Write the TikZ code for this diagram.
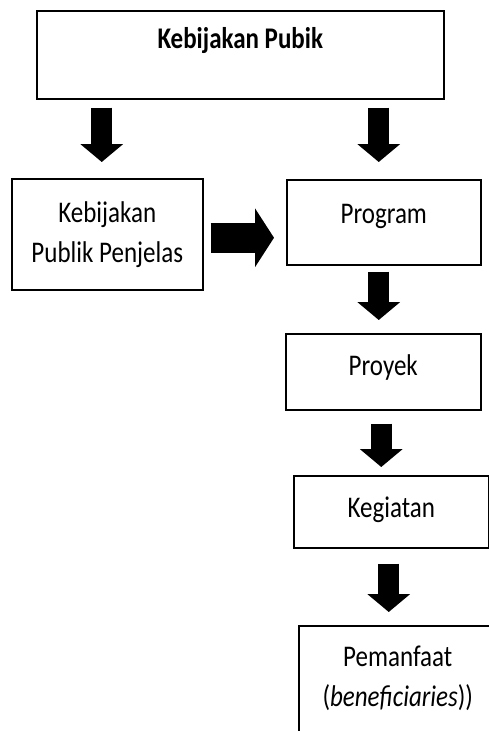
\documentclass[tikz,border=0pt]{standalone}
\usepackage{fontspec}
\setmainfont{Carlito}
\usetikzlibrary{arrows.meta,positioning}
\newcommand{\tall}[1]{\scalebox{1}[1.2]{#1}}

\begin{document}
\begin{tikzpicture}[
      x=1pt, y=-1pt,
      box/.style={
        draw=black, line width=1.5pt, fill=white, anchor=north west,
        font=\fontsize{25}{40}\selectfont, inner xsep=4pt, inner ysep=0pt
      },
      down/.style={-{Triangle[width=42pt,length=18pt]}, line width=21pt},
      side/.style={-{Triangle[width=58pt,length=19pt]}, line width=30pt}
    ]
    \useasboundingbox (0,0) rectangle (489,731);
    \clip (0,0) rectangle (489,731);

    \node[box, minimum width=407pt, text height=38pt, text depth=50pt] (kebijakan) at (36,10)
      {\tall{\textbf{Kebijakan Pubik}}};
    \node[box, minimum width=191pt, minimum height=111pt, align=center] (penjelas) at (11,178)
      {\tall{Kebijakan}\\\tall{Publik Penjelas}};
    \node[box, minimum width=194pt, text height=44pt, text depth=41pt] (program) at (286,179)
      {\tall{Program}};
    \node[box, minimum width=195pt, text height=42pt, text depth=34pt] (proyek) at (285,333)
      {\tall{Proyek}};
    \node[box, minimum width=195pt, text height=42pt, text depth=30pt] (kegiatan) at (293,475)
      {\tall{Kegiatan}};
    \node[box, minimum width=194pt, inner ysep=20pt] (pemanfaat) at (298,625)
      {\parbox[t][100pt][t]{190pt}{\centering \tall{Pemanfaat}\\\tall{(\textit{beneficiaries}))}}};

    \draw[down, shorten <=8pt, shorten >=16pt]
      ([xshift=-5.5pt]penjelas.north |- kebijakan.south) -- ([xshift=-5.5pt]penjelas.north);
    \draw[down, shorten <=8pt, shorten >=17pt]
      ([xshift=-5pt]program.north |- kebijakan.south) -- ([xshift=-5pt]program.north);
    \draw[side, shorten <=7pt, shorten >=12pt]
      ([yshift=-3.5pt]penjelas.east) -- ([yshift=-3.5pt]penjelas.east -| program.west);
    \draw[down, shorten <=6pt, shorten >=13pt]
      ([xshift=-5pt]program.south) -- ([xshift=-5pt]program.south |- proyek.north);
    \draw[down, shorten <=13pt, shorten >=8pt]
      ([xshift=-2pt]proyek.south) -- ([xshift=-2pt]proyek.south |- kegiatan.north);
    \draw[down, shorten <=15pt, shorten >=13pt]
      ([xshift=-2.5pt]kegiatan.south) -- ([xshift=-2.5pt]kegiatan.south |- pemanfaat.north);
  \end{tikzpicture}
\end{document}
